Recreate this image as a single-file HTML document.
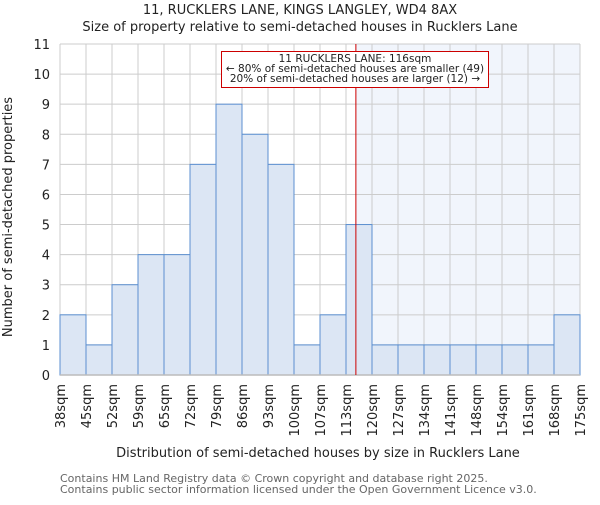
<!DOCTYPE html>
<html><head><meta charset="utf-8"><style>
body{margin:0;background:#fff;}
svg text{font-family:"DejaVu Sans","Liberation Sans",sans-serif;}
</style></head><body>
<svg id="chart" width="600" height="500" xmlns="http://www.w3.org/2000/svg">
<text x="300" y="14" text-anchor="middle" font-size="13" fill="#222">11, RUCKLERS LANE, KINGS LANGLEY, WD4 8AX</text>
<text x="300" y="31" text-anchor="middle" font-size="13" fill="#222">Size of property relative to semi-detached houses in Rucklers Lane</text>
<g id="plot"></g>
<text x="318" y="457" text-anchor="middle" font-size="13" fill="#222">Distribution of semi-detached houses by size in Rucklers Lane</text>
<text transform="translate(12,217) rotate(-90)" text-anchor="middle" font-size="13" fill="#222">Number of semi-detached properties</text>
<text x="60" y="482" font-size="11" fill="#666">Contains HM Land Registry data © Crown copyright and database right 2025.</text>
<text x="60" y="493" font-size="11" fill="#666">Contains public sector information licensed under the Open Government Licence v3.0.</text>
</svg>
<script>
const categories=["38sqm","45sqm","52sqm","59sqm","65sqm","72sqm","79sqm","86sqm","93sqm","100sqm","107sqm","113sqm","120sqm","127sqm","134sqm","141sqm","148sqm","154sqm","161sqm","168sqm","175sqm"];
const counts=[2,1,3,4,4,7,9,8,7,1,2,5,1,1,1,1,1,1,1,2];
const yTicks=[0,1,2,3,4,5,6,7,8,9,10,11];
const markerIndex=11.38;
const NS="http://www.w3.org/2000/svg";
const X0=60,X1=580,Y0=375,Y1=44,YMAX=11;
const n=counts.length;
const bw=(X1-X0)/n;
const xs=i=>X0+i*bw;
const ys=v=>Y0-(v/YMAX)*(Y0-Y1);
const g=document.getElementById('plot');
function mk(t,a){const e=document.createElementNS(NS,t);for(const k in a)e.setAttribute(k,a[k]);g.appendChild(e);return e;}
const mx=xs(markerIndex);
let e=mk('rect',{x:mx,y:Y1,width:X1-mx,height:Y0-Y1,fill:'#f1f5fc'});


for(const t of yTicks){
 e=mk('line',{x1:X0,x2:X1,y1:ys(t),y2:ys(t),stroke:'#ccc','stroke-width':1});
 
 
 e=mk('text',{x:X0-10,y:ys(t)+5,'text-anchor':'end','font-size':13,fill:'#222'});
 e.textContent=t;
 
 
}
for(let i=0;i<=n;i++){
 e=mk('line',{x1:xs(i),x2:xs(i),y1:Y1,y2:Y0,stroke:'#ccc','stroke-width':1});
 
 
}
counts.forEach((v,i)=>{
 e=mk('rect',{x:xs(i),y:ys(v),width:bw,height:Y0-ys(v),fill:'#dce6f4',stroke:'#5b8fd0','stroke-width':1});
 
 
});
e=mk('line',{x1:X0,x2:X1,y1:Y0,y2:Y0,stroke:'#bbb','stroke-width':1.5});


categories.forEach((c,i)=>{
 const x=xs(i)+5;
 e=mk('text',{transform:`translate(${x},384) rotate(-90)`,'text-anchor':'end','font-size':13,fill:'#222'});
 e.textContent=c;
 
 
});
e=mk('line',{x1:mx,x2:mx,y1:Y1,y2:Y0,stroke:'#cc0000','stroke-width':1});


e=mk('rect',{x:221.5,y:51.5,width:267,height:36,fill:'#fff',stroke:'#cc0000','stroke-width':1});


const lines=["11 RUCKLERS LANE: 116sqm","← 80% of semi-detached houses are smaller (49)","20% of semi-detached houses are larger (12) →"];
lines.forEach((l,i)=>{
 e=mk('text',{x:355,y:62+i*10,'text-anchor':'middle','font-size':10.5,fill:'#222'});
 e.textContent=l;
 
 
});
</script>
</body></html>
